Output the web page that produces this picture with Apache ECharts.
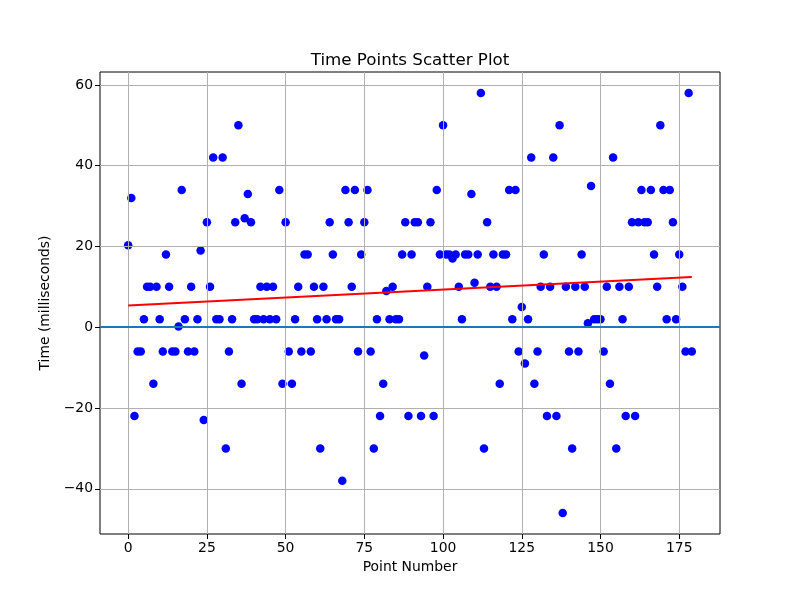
<!DOCTYPE html>
<html>
<head>
<meta charset="utf-8">
<script src="https://cdn.jsdelivr.net/npm/echarts@6/dist/echarts.min.js"></script>
<style>html,body{margin:0;padding:0;background:#fff}#c{width:800px;height:600px}</style>
</head>
<body>
<div id="c"></div>
<script>
const titleText = "Time Points Scatter Plot";
const xName = "Point Number";
const yName = "Time (milliseconds)";
const xTicks = [0, 25, 50, 75, 100, 125, 150, 175];
const yTicks = [-40, -20, 0, 20, 40, 60];
const times = [
  20.3, 32, -22, -6, -6, 2, 10, 10, -14, 10,
  2, -6, 18, 10, -6, -6, 0.2, 34, 2, -6,
  10, -6, 2, 19, -23, 26, 10, 42, 2, 2,
  42, -30, -6, 2, 26, 50, -14, 27, 33, 26,
  2, 2, 10, 2, 10, 2, 10, 2, 34, -14,
  26, -6, -14, 2, 10, -6, 18, 18, -6, 10,
  2, -30, 10, 2, 26, 18, 2, 2, -38, 34,
  26, 10, 34, -6, 18, 26, 34, -6, -30, 2,
  -22, -14, 9, 2, 10, 2, 2, 18, 26, -22,
  18, 26, 26, -22, -7, 10, 26, -22, 34, 18,
  50, 18, 18, 17, 18, 10, 2, 18, 18, 33,
  11, 18, 58, -30, 26, 10, 18, 10, -14, 18,
  18, 34, 2, 34, -6, 5, -9, 2, 42, -14,
  -6, 10, 18, -22, 10, 42, -22, 50, -46, 10,
  -6, -30, 10, -6, 18, 10, 1, 35, 2, 2,
  2, -6, 10, -14, 42, -30, 10, 2, -22, 10,
  26, -22, 26, 34, 26, 26, 34, 18, 10, 50,
  34, 2, 34, 26, 2, 18, 10, -6, 58, -6
];
const pointNumbers = times.map((_, i) => i);

// least-squares trend line from the data
const n = times.length;
const mx = pointNumbers.reduce((a, b) => a + b, 0) / n;
const my = times.reduce((a, b) => a + b, 0) / n;
let sxy = 0, sxx = 0;
for (let i = 0; i < n; i++) { sxy += (pointNumbers[i] - mx) * (times[i] - my); sxx += (pointNumbers[i] - mx) ** 2; }
const slope = sxy / sxx, intercept = my - slope * mx;
const xFirst = pointNumbers[0], xLast = pointNumbers[n - 1];
const trend = [[xFirst, intercept + slope * xFirst], [xLast, intercept + slope * xLast]];

const xPad = (xLast - xFirst) * 0.05;
const yMin = Math.min(...times), yMax = Math.max(...times);
const yPad = (yMax - yMin) * 0.05;

const FONT = "DejaVu Sans";
const fmt = v => (v < 0 ? "\u2212" + Math.abs(v) : String(v));

const chart = echarts.init(document.getElementById('c'), null, { renderer: 'canvas' });
chart.setOption({
  animation: false,
  backgroundColor: '#ffffff',
  textStyle: { fontFamily: FONT },
  title: {
    text: titleText, left: 405, top: 47, textAlign: 'center',
    textStyle: { fontFamily: FONT, fontSize: 16.7, fontWeight: 'normal', color: '#000' }
  },
  grid: { left: 100, right: 80, top: 72, bottom: 66, show: true, borderColor: '#000', borderWidth: 1, backgroundColor: 'transparent' },
  xAxis: {
    type: 'value', min: xFirst - xPad, max: xLast + xPad, z: 3,
    position: 'bottom',
    name: xName, nameLocation: 'middle', nameGap: 26,
    nameTextStyle: { fontFamily: FONT, fontSize: 13.9, color: '#000' },
    axisLine: { show: false, onZero: false },
    axisTick: { show: true, inside: false, length: 5, lineStyle: { color: '#000', width: 1 }, customValues: xTicks },
    axisLabel: { color: '#000', fontFamily: FONT, fontSize: 13.9, margin: 7, customValues: xTicks, formatter: fmt },
    splitLine: { show: true, lineStyle: { color: '#b0b0b0', width: 1 } }
  },
  yAxis: {
    type: 'value', min: yMin - yPad, max: yMax + yPad, z: 3,
    position: 'left',
    name: yName, nameLocation: 'middle', nameGap: 41, nameRotate: 90,
    nameTextStyle: { fontFamily: FONT, fontSize: 13.9, color: '#000' },
    axisLine: { show: false, onZero: false },
    axisTick: { show: true, inside: false, length: 5, lineStyle: { color: '#000', width: 1 }, customValues: yTicks },
    axisLabel: { color: '#000', fontFamily: FONT, fontSize: 13.9, margin: 7, customValues: yTicks, formatter: fmt },
    splitLine: { show: true, lineStyle: { color: '#b0b0b0', width: 1 } }
  },
  series: [
    {
      type: 'scatter', z: 2,
      data: pointNumbers.map((x, i) => [x, times[i]]),
      symbol: 'circle', symbolSize: 8.5,
      itemStyle: { color: '#0000ff', opacity: 1 }
    },
    {
      type: 'line', z: 5, data: [], silent: true,
      markLine: {
        silent: true, symbol: ['none', 'none'], label: { show: false },
        lineStyle: { color: '#1f77b4', width: 2, type: 'solid' },
        data: [{ yAxis: 0 }]
      }
    },
    {
      type: 'line', z: 6, data: trend, symbol: 'none',
      lineStyle: { color: '#ff0000', width: 2 }
    }
  ]
});
</script>
</body>
</html>
